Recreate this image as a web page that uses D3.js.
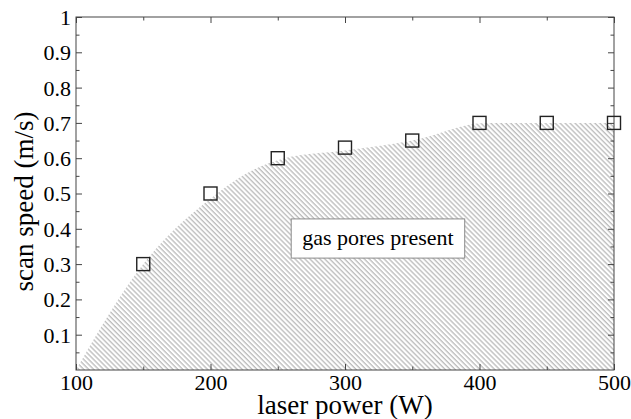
<!DOCTYPE html>
<html>
<head>
<meta charset="utf-8">
<script src="https://cdn.jsdelivr.net/npm/d3@7"></script>
<style>
  body { margin: 0; }
  svg text { font-family: "Liberation Serif", "Times New Roman", Tinos, Times !important; }
</style>
</head>
<body>
<svg id="chart" width="631" height="419" font-family="Liberation Serif, Times New Roman, Tinos, Times"></svg>
<script>
// Measured process window: laser power (W) vs. scan speed (m/s)
const power = [150, 200, 250, 300, 350, 400, 450, 500];
const speed = [0.3, 0.5, 0.6, 0.63, 0.65, 0.7, 0.7, 0.7];

// Outline of the region where gas pores are present
const regionPower = [100, 150, 205, 226, 255, 300, 350, 405, 500];
const regionSpeed = [0, 0.3, 0.5, 0.555, 0.6, 0.622, 0.65, 0.7, 0.7];

// Axis ticks
const xMajor = [100, 200, 300, 400, 500];
const xMinor = [150, 250, 350, 450];
const yMajor = [0.1, 0.2, 0.3, 0.4, 0.5, 0.6, 0.7, 0.8, 0.9, 1];
const yMinor = [0.05, 0.15, 0.25, 0.35, 0.45, 0.55, 0.65, 0.75, 0.85, 0.95];
const xTickLabels = ["100", "200", "300", "400", "500"];
const yTickLabels = ["0.1", "0.2", "0.3", "0.4", "0.5", "0.6", "0.7", "0.8", "0.9", "1"];

const regionLabel = "gas pores present";
const xTitle = "laser power (W)";
const yTitle = "scan speed (m/s)";

const FONT = "Times New Roman";

const svg = d3.select("#chart");
const W = 631, H = 419;
const margin = { left: 76, right: 17, top: 17, bottom: 49 };

const x = d3.scaleLinear().domain([100, 500]).range([margin.left, W - margin.right]);
const y = d3.scaleLinear().domain([0, 1]).range([H - margin.bottom, margin.top]);

// Diagonal hatch
const defs = svg.append("defs");
const pat = defs.append("pattern")
  .attr("id", "hatch")
  .attr("patternUnits", "userSpaceOnUse")
  .attr("width", 3.5)
  .attr("height", 10)
  .attr("patternTransform", "rotate(-45)");
pat.append("line")
  .attr("x1", 1).attr("y1", 0).attr("x2", 1).attr("y2", 10)
  .attr("stroke", "#8e8e8e").attr("stroke-width", 0.85);

defs.append("clipPath").attr("id", "plotClip")
  .append("rect")
  .attr("x", x.range()[0]).attr("y", y.range()[1])
  .attr("width", x.range()[1] - x.range()[0])
  .attr("height", y.range()[0] - y.range()[1]);

// Shaded region
const regionPts = regionPower.map((p, i) => [p, regionSpeed[i]]);
const area = d3.area()
  .curve(d3.curveMonotoneX)
  .x(d => x(d[0]))
  .y0(y(0))
  .y1(d => y(d[1]));
svg.append("path")
  .datum(regionPts)
  .attr("d", area)
  .attr("fill", "url(#hatch)")
  .attr("clip-path", "url(#plotClip)");

// Ticks on all four sides, pointing inward
function tickAxis(axisFn, scale, values, size, transform, labels) {
  const ax = axisFn(scale).tickValues(values).tickSizeInner(-size).tickSizeOuter(0);
  if (labels) ax.tickFormat((d, i) => labels[i]);
  else ax.tickFormat("");
  const g = svg.append("g").attr("transform", transform).call(ax);
  g.attr("font-family", FONT).attr("font-size", 22);
  g.select(".domain").remove();
  g.selectAll(".tick line").attr("stroke", "#444").attr("stroke-width", 1);
  return g;
}
const bottomY = y.range()[0], topY = y.range()[1];
const leftX = x.range()[0], rightX = x.range()[1];

const gxb = tickAxis(d3.axisBottom, x, xMajor, 6, `translate(0,${bottomY})`, xTickLabels);
tickAxis(d3.axisBottom, x, xMinor, 3.5, `translate(0,${bottomY})`, null);
tickAxis(d3.axisTop, x, xMajor, 6, `translate(0,${topY})`, null);
tickAxis(d3.axisTop, x, xMinor, 3.5, `translate(0,${topY})`, null);

const gyl = tickAxis(d3.axisLeft, y, yMajor, 6, `translate(${leftX},0)`, yTickLabels);
tickAxis(d3.axisLeft, y, yMinor, 3.5, `translate(${leftX},0)`, null);
tickAxis(d3.axisRight, y, yMajor, 6, `translate(${rightX},0)`, null);
tickAxis(d3.axisRight, y, yMinor, 3.5, `translate(${rightX},0)`, null);

gxb.selectAll(".tick text")
  .attr("y", 20).attr("dy", null)
  .attr("font-family", FONT)
  .attr("font-size", 22).attr("fill", "#000");
gyl.selectAll(".tick text")
  .attr("x", -5).attr("dy", "0.34em")
  .attr("font-family", FONT)
  .attr("font-size", 22).attr("fill", "#000");

// Frame
svg.append("rect")
  .attr("x", leftX).attr("y", topY)
  .attr("width", rightX - leftX).attr("height", bottomY - topY)
  .attr("fill", "none").attr("stroke", "#444").attr("stroke-width", 1);

// Measured points
const mSize = 13;
svg.append("g").selectAll("rect")
  .data(power.map((p, i) => [p, speed[i]]))
  .join("rect")
  .attr("x", d => x(d[0]) - mSize / 2)
  .attr("y", d => y(d[1]) - mSize / 2)
  .attr("width", mSize).attr("height", mSize)
  .attr("fill", "none").attr("stroke", "#222").attr("stroke-width", 1.4);

// Region label in a boxed annotation (box spans 260–389 W, 0.317–0.428 m/s)
const lbl = svg.append("g");
lbl.append("rect")
  .attr("x", x(260)).attr("y", y(0.428))
  .attr("width", x(389) - x(260)).attr("height", y(0.317) - y(0.428))
  .attr("fill", "#fff").attr("stroke", "#8a8a8a").attr("stroke-width", 1);
lbl.append("text")
  .attr("x", x(324.5)).attr("y", y(0.353))
  .attr("text-anchor", "middle")
  .attr("font-family", FONT)
  .attr("font-size", 22).attr("fill", "#000")
  .text(regionLabel);

// Axis titles
svg.append("text")
  .attr("x", (leftX + rightX) / 2).attr("y", 414)
  .attr("text-anchor", "middle")
  .attr("font-family", FONT)
  .attr("font-size", 27).attr("fill", "#000")
  .text(xTitle);
svg.append("text")
  .attr("transform", `translate(33,${(topY + bottomY) / 2 + 8}) rotate(-90)`)
  .attr("text-anchor", "middle")
  .attr("font-family", FONT)
  .attr("font-size", 27).attr("fill", "#000")
  .text(yTitle);
</script>
</body>
</html>
